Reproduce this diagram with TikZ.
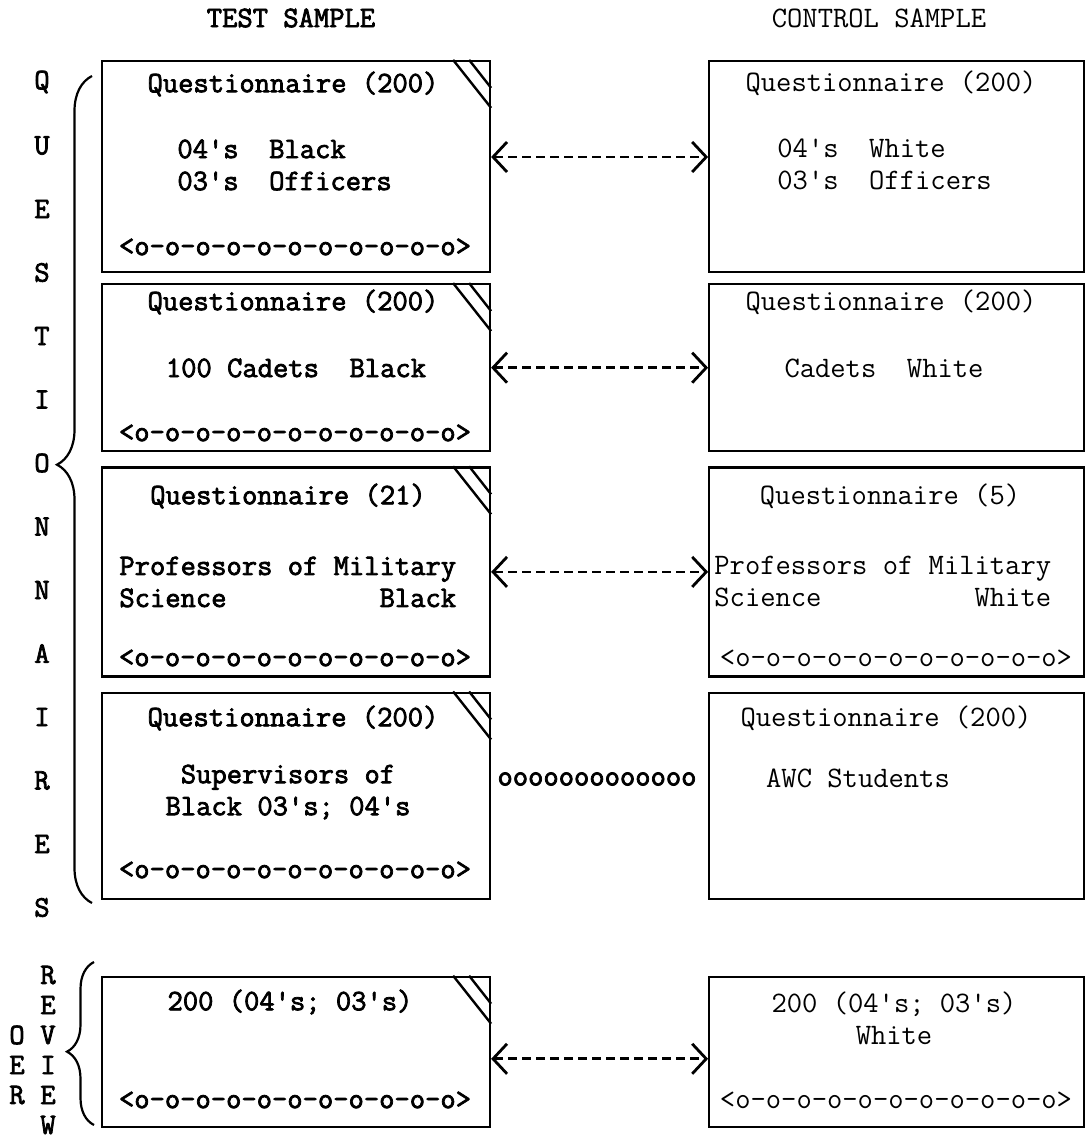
\documentclass[tikz,border=0pt]{standalone}
\usepackage{fontspec}
\newfontfamily\heavytt{Latin Modern Mono}[FakeBold=2.5]
\usetikzlibrary{positioning}
\usetikzlibrary{arrows.meta}
\usetikzlibrary{decorations.pathreplacing}
\tikzstyle{box} = [rectangle, draw=black, line width=1.1pt, inner sep=0pt]
\tikzstyle{tbox} = [box, minimum width=194pt]
\tikzstyle{cbox} = [box, minimum width=187.5pt]
\tikzstyle{tword} = [font=\heavytt\fontsize{14.86}{16}\selectfont, inner sep=0pt, align=center]
\tikzstyle{cword} = [font=\ttfamily\fontsize{14.86}{16}\selectfont, inner sep=0pt, align=center]
\tikzstyle{link} = [{Straight Barb[length=7pt,width=15pt]}-{Straight Barb[length=7pt,width=15pt]},
line width=1.4pt, dash pattern=on 4.5pt off 2.5pt]
\tikzstyle{hatch} = [line width=1.2pt]
\tikzstyle{curly} = [decorate, line width=1.1pt]
\newcommand{\hatchcorner}[1]{ %
  % Folded corner marks on the test sample boxes #1.
  \foreach \b in {#1} { %
    \draw[hatch] ([xshift=-19pt]\b.north east) -- ([yshift=-24pt]\b.north east) ;%
    \draw[hatch] ([xshift=-11pt]\b.north east) -- ([yshift=-14pt]\b.north east) ;%
  } ;
}
\newcommand{\chain}{<o-o-o-o-o-o-o-o-o-o-o>}

\begin{document}
\begin{tikzpicture}[x=0.5pt, y=-0.5pt]
  \useasboundingbox (0,0) rectangle (1084,1139);

  \node[tword] (ttest) at (291,18) {TEST SAMPLE};
  \node[cword] (tctrl) at (879,18) {CONTROL SAMPLE};

  \node[tbox, minimum height=105.5pt] (t1) at (296,166.5) {};
  \node[tbox, minimum height=83.5pt, below=5pt of t1] (t2) {};
  \node[tbox, minimum height=104.5pt, below=7pt of t2] (t3) {};
  \node[tbox, minimum height=103pt, below=7pt of t3] (t4) {};
  \node[tbox, minimum height=75pt, below=38pt of t4] (t5) {};

  \node[cbox, minimum height=105.5pt, right=108.5pt of t1] (c1) {};
  \node[cbox, minimum height=83.5pt, right=108.5pt of t2] (c2) {};
  \node[cbox, minimum height=104.5pt, right=108.5pt of t3] (c3) {};
  \node[cbox, minimum height=103pt, right=108.5pt of t4] (c4) {};
  \node[cbox, minimum height=75pt, right=108.5pt of t5] (c5) {};

  \hatchcorner{t1,t2,t3,t4,t5}

  \node[tword] (tq1) at (293,84) {Questionnaire (200)};
  \node[tword, anchor=west, align=left] (tg1) at (177,165) {04's\ \ Black\\03's\ \ Officers};
  \node[tword] (tk1) at (295,247) {\chain};
  \node[cword] (cq1) at (891,83) {Questionnaire (200)};
  \node[cword, anchor=west, align=left] (cg1) at (777,164) {04's\ \ White\\03's\ \ Officers};

  \node[tword] (tq2) at (293,302) {Questionnaire (200)};
  \node[tword] (tg2) at (296,368) {100 Cadets\ \ Black};
  \node[tword] (tk2) at (295,433) {\chain};
  \node[cword] (cq2) at (891,302) {Questionnaire (200)};
  \node[cword] (cg2) at (884,368) {Cadets\ \ White};

  \node[tword] (tq3) at (288,496) {Questionnaire (21)};
  \node[tword, anchor=west, align=left] (tg3) at (119,582)
    {Professors of Military\\Science\ \ \ \ \ \ \ \ \ \ Black};
  \node[tword] (tk3) at (295,658) {\chain};
  \node[cword] (cq3) at (890,496) {Questionnaire (5)};
  \node[cword, anchor=west, align=left] (cg3) at (714,582)
    {Professors of Military\\Science\ \ \ \ \ \ \ \ \ \ White};
  \node[cword] (ck3) at (896,658) {\chain};

  \node[tword] (tq4) at (293,718) {Questionnaire (200)};
  \node[tword] (tg4) at (288,792) {Supervisors of\\Black 03's; 04's};
  \node[tword] (tk4) at (295,870) {\chain};
  \node[cword] (cq4) at (886,718) {Questionnaire (200)};
  \node[cword] (cg4) at (858,778) {AWC Students};
  \node[tword] (oo) at (597,779) {ooooooooooooo};

  \node[tword] (tq5) at (290,1002) {200 (04's; 03's)};
  \node[tword] (tk5) at (295,1100) {\chain};
  \node[cword] (cq5) at (894,1018) {200 (04's; 03's)\\White};
  \node[cword] (ck5) at (896,1100) {\chain};

  \draw[link] ([yshift=4.75pt]t1.east) -- ([yshift=4.75pt]c1.west);
  \draw[link] (t2.east) -- (c2.west);
  \draw[link] (t3.east) -- (c3.west);
  \draw[link] ([yshift=-3.5pt]t5.east) -- ([yshift=-3.5pt]c5.west);

  \foreach \l [count=\i] in {Q,U,E,S,T,I,O,N,N,A,I,R,E,S}
    \node[tword] (q\i) at (42,{82+63.5*(\i-1)}) {\l};
  \foreach \l [count=\i] in {R,E,V,I,E,W}
    \node[tword] (r\i) at (48,{975+30*(\i-1)}) {\l};
  \foreach \l [count=\i] in {O,E,R}
    \node[tword] (o\i) at (17,{1035+30*(\i-1)}) {\l};

  \draw[curly, decoration={brace, amplitude=17.5pt, aspect=0.53}] (92,903) -- (92,76);
  \draw[curly, decoration={brace, amplitude=13.5pt, aspect=0.45}] (94,1125) -- (94,962);
\end{tikzpicture}
\end{document}
